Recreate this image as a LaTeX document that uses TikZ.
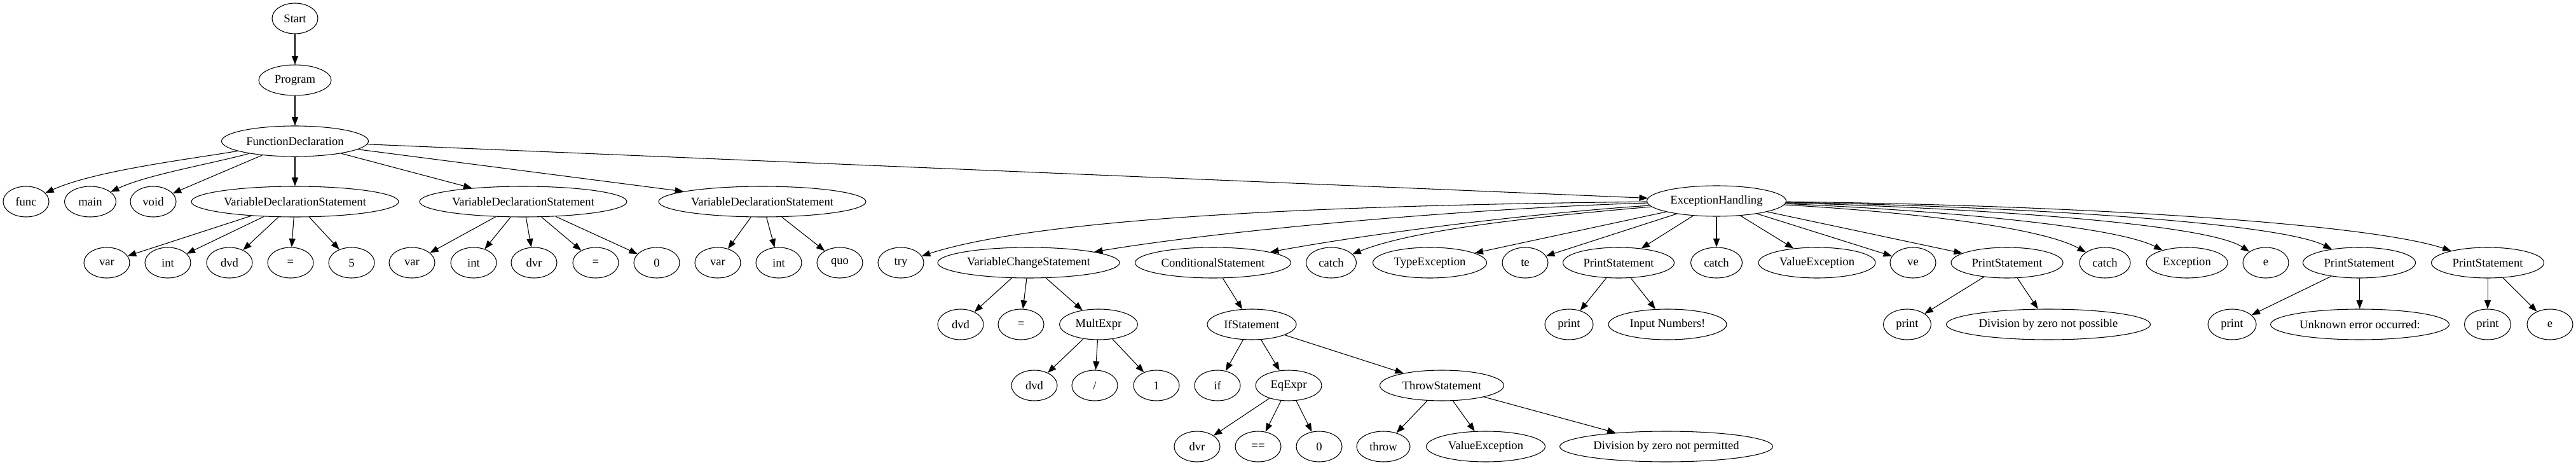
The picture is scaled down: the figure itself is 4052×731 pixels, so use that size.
\documentclass[tikz,border=0pt]{standalone}
\usepackage{fontspec}
\setmainfont{Liberation Serif}
\usetikzlibrary{shapes.geometric,arrows.meta}
\tikzset{
  nd/.style={draw, ellipse, line width=0.8pt, minimum width=54pt, minimum height=36pt, inner sep=0pt, font=\fontsize{14}{16}\selectfont},
  ew/.style={minimum width=#1*0.75pt},
  edge/.style={-{Triangle[length=10pt,width=7.5pt]}, line width=0.8pt}
}
\begin{document}
\begin{tikzpicture}[x=0.75pt, y=-0.75pt]
\useasboundingbox (0,0) rectangle (4052,731);
% level 0-2
\node[nd] (start) at (464,29) {Start};
\node[nd, ew=114] (prog) at (464,126) {Program};
\node[nd, ew=231] (fd) at (464,222) {FunctionDeclaration};
% level 3
\node[nd] (func) at (41,317) {func};
\node[nd, ew=81] (main) at (142,317) {main};
\node[nd] (void) at (241,317) {void};
\node[nd, ew=326] (vds1) at (464,317) {VariableDeclarationStatement};
\node[nd, ew=326] (vds2) at (823,317) {VariableDeclarationStatement};
\node[nd, ew=326] (vds3) at (1199,317) {VariableDeclarationStatement};
\node[nd, ew=219] (eh) at (2700,316) {ExceptionHandling};
% level 4
\node[nd] (a1) at (168,413) {var};
\node[nd] (a2) at (264,413) {int};
\node[nd] (a3) at (361,413) {dvd};
\node[nd] (a4) at (457,413) {=};
\node[nd] (a5) at (553,413) {5};
\node[nd] (b1) at (648,413) {var};
\node[nd] (b2) at (745,413) {int};
\node[nd] (b3) at (840,413) {dvr};
\node[nd] (b4) at (937,413) {=};
\node[nd] (b5) at (1033,413) {0};
\node[nd] (c1) at (1129,413) {var};
\node[nd] (c2) at (1225,413) {int};
\node[nd] (c3) at (1321,413) {quo};
\node[nd] (try) at (1417,413) {try};
\node[nd, ew=286] (vcs) at (1618,413) {VariableChangeStatement};
\node[nd, ew=245] (cond) at (1908,413) {ConditionalStatement};
\node[nd, ew=79] (catcha) at (2094,413) {catch};
\node[nd, ew=179] (typeex) at (2249,413) {TypeException};
\node[nd] (te) at (2399,413) {te};
\node[nd, ew=175] (psa) at (2546,413) {PrintStatement};
\node[nd, ew=81] (catchb) at (2700,413) {catch};
\node[nd, ew=184] (valex) at (2858,413) {ValueException};
\node[nd] (ve) at (3009,413) {ve};
\node[nd, ew=176] (psb) at (3157,413) {PrintStatement};
\node[nd, ew=80] (catchc) at (3311,413) {catch};
\node[nd, ew=128] (exc) at (3440,413) {Exception};
\node[nd] (ee) at (3564,413) {e};
\node[nd, ew=177] (psc) at (3711,413) {PrintStatement};
\node[nd, ew=177] (psd) at (3913,413) {PrintStatement};
% level 5
\node[nd] (v1) at (1511,510) {dvd};
\node[nd] (v2) at (1606,510) {=};
\node[nd, ew=123] (mult) at (1728,510) {MultExpr};
\node[nd, ew=140] (ifst) at (1969,510) {IfStatement};
\node[nd, ew=76] (pa1) at (2468,510) {print};
\node[nd, ew=186] (pa2) at (2623,510) {Input Numbers!};
\node[nd, ew=75] (pb1) at (3000,510) {print};
\node[nd, ew=321] (pb2) at (3222,510) {Division by zero not possible};
\node[nd, ew=76] (pc1) at (3511,510) {print};
\node[nd, ew=281] (pc2) at (3712,510) {Unknown error occurred:};
\node[nd, ew=73] (pd1) at (3913,510) {print};
\node[nd] (pd2) at (4011,510) {e};
% level 6
\node[nd] (m1) at (1627,606) {dvd};
\node[nd] (m2) at (1722,606) {/};
\node[nd] (m3) at (1819,606) {1};
\node[nd] (if) at (1915,606) {if};
\node[nd, ew=104] (eq) at (2027,606) {EqExpr};
\node[nd, ew=195] (throwst) at (2268,606) {ThrowStatement};
% level 7
\node[nd] (q1) at (1883,702) {dvr};
\node[nd] (q2) at (1979,702) {==};
\node[nd] (q3) at (2075,702) {0};
\node[nd, ew=84] (t1) at (2176,702) {throw};
\node[nd, ew=187] (t2) at (2337,702) {ValueException};
\node[nd, ew=335] (t3) at (2621,702) {Division by zero not permitted};
% edges
\draw[edge] (start) -- (prog);
\draw[edge] (prog) -- (fd);
\draw[edge] (fd) .. controls (300,250) and (150,268) .. (func);
\draw[edge] (fd) .. controls (330,258) and (230,275) .. (main);
\draw[edge] (fd) -- (void);
\draw[edge] (fd) -- (vds1);
\draw[edge] (fd) -- (vds2);
\draw[edge] (fd) -- (vds3);
\draw[edge] (fd) -- (eh);
\foreach \k in {a1,a2,a3,a4,a5} \draw[edge] (vds1) -- (\k);
\foreach \k in {b1,b2,b3,b4,b5} \draw[edge] (vds2) -- (\k);
\foreach \k in {c1,c2,c3} \draw[edge] (vds3) -- (\k);
\draw[edge] (eh) .. controls (2150,322) and (1650,338) .. (try);
\draw[edge] (eh) .. controls (2350,326) and (1950,358) .. (vcs);
\draw[edge] (eh) .. controls (2400,336) and (2150,368) .. (cond);
\draw[edge] (eh) .. controls (2450,338) and (2230,358) .. (catcha);
\draw[edge] (eh) -- (typeex);
\draw[edge] (eh) -- (te);
\draw[edge] (eh) -- (psa);
\draw[edge] (eh) -- (catchb);
\draw[edge] (eh) -- (valex);
\draw[edge] (eh) -- (ve);
\draw[edge] (eh) -- (psb);
\draw[edge] (eh) .. controls (2950,330) and (3200,352) .. (catchc);
\draw[edge] (eh) .. controls (3000,328) and (3320,352) .. (exc);
\draw[edge] (eh) .. controls (3080,326) and (3470,350) .. (ee);
\draw[edge] (eh) .. controls (3150,324) and (3580,348) .. (psc);
\draw[edge] (eh) .. controls (3250,322) and (3720,350) .. (psd);
\foreach \k in {v1,v2,mult} \draw[edge] (vcs) -- (\k);
\draw[edge] (cond) -- (ifst);
\draw[edge] (psa) -- (pa1);
\draw[edge] (psa) -- (pa2);
\draw[edge] (psb) -- (pb1);
\draw[edge] (psb) -- (pb2);
\draw[edge] (psc) -- (pc1);
\draw[edge] (psc) -- (pc2);
\draw[edge] (psd) -- (pd1);
\draw[edge] (psd) -- (pd2);
\foreach \k in {m1,m2,m3} \draw[edge] (mult) -- (\k);
\foreach \k in {if,eq,throwst} \draw[edge] (ifst) -- (\k);
\foreach \k in {q1,q2,q3} \draw[edge] (eq) -- (\k);
\foreach \k in {t1,t2,t3} \draw[edge] (throwst) -- (\k);
\end{tikzpicture}
\end{document}
